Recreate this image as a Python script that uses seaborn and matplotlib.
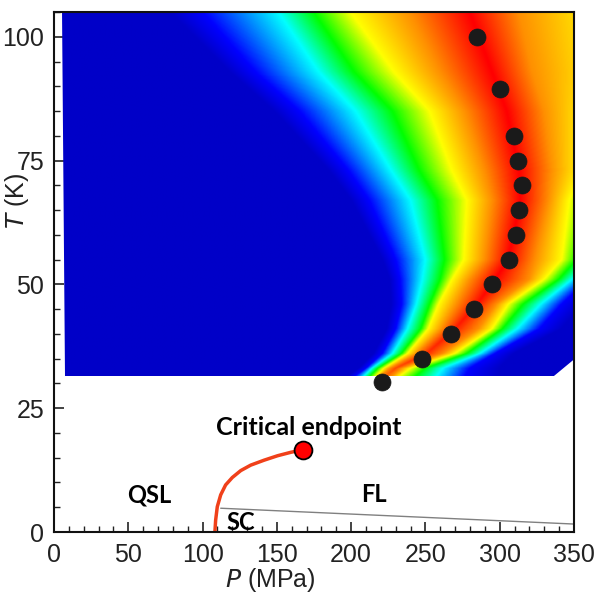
import numpy as np
import matplotlib
matplotlib.use("Agg")
import matplotlib.pyplot as plt
import seaborn as sns
from matplotlib.colors import LinearSegmentedColormap
from matplotlib.patches import Polygon
from matplotlib.ticker import MultipleLocator

# 측정점 (P, T)
dot_p = [285, 300.5, 309.5, 312, 315, 313, 311, 306, 294.5, 282.5, 267, 247.5, 221]
dot_t = [100, 89.5, 80, 75, 70, 65, 60, 55, 50, 45, 40, 35, 30.2]

# 1차 전이선과 임계 끝점
line_p = [108.3, 108.8, 109.9, 112.2, 115.5, 120.0, 125.7, 132.4, 141.4, 150.5, 159.5, 167.3]
line_t = [0, 2.4, 5.1, 7.5, 9.5, 11.0, 12.4, 13.5, 14.5, 15.4, 16.1, 16.6]
cep_p = [167.3]
cep_t = [16.6]

# SC 경계선
sc_p = [112.2, 350.5]
sc_t = [4.8, 1.6]

# 컬러맵 영역: 각 T 행에서 색 단계(0=진한 파랑 ... 6=빨강)가 나타나는 P 위치
map_t = [105, 93, 85, 73, 67, 55, 51, 46, 41, 36, 33, 31.5]
edge_l = [5.4, 5.6, 5.8, 6.0, 6.2, 6.5, 6.7, 6.9, 7.1, 7.3, 7.4, 7.4]
dark_l = [78, 118, 148, 185, 200, 221, 226, 227, 224, 215, 205, 198]
blue_l = [100, 135, 165, 198, 212, 230, 233, 234, 230, 221, 210, 203]
cyan_l = [151, 178, 203, 227, 240, 250, 248, 244, 238, 228, 214, 209]
green_l = [175, 202, 228, 246, 258, 263, 260, 253, 247, 234, 218, 213]
yellow_l = [200, 229, 253, 268, 278, 276, 268, 259, 252, 238, 222, 217]
orange_l = [240, 260, 277, 290, 295, 290, 280, 271, 261, 244, 226, 220]
ridge = [280, 295, 305, 313, 314, 306, 297, 285, 270, 251, 230, 224]
ridge_v = [6, 6, 6, 6, 6, 6, 6, 5.9, 5.8, 5.7, 5.5, 5.3]
orange_r = [313, 322, 330, 335, 333, 324, 320, 298, 286, 262, 234, 228]
yellow_r = [369, 372, 361, 356, 347, 342, 330, 306, 295, 270, 240, 233]
green_r = [400, 400, 390, 380, 365, 352, 340, 316, 302, 278, 250, 244]
cyan_r = [430, 430, 420, 410, 390, 365, 349, 328, 312, 287, 262, 258]
blue_r = [460, 460, 450, 440, 420, 395, 360, 342, 327, 297, 280, 277]
dark_r = [490, 490, 480, 470, 450, 420, 372, 356, 342, 310, 300, 300]
edge_r = [520] * 12

level_cols = [edge_l, dark_l, blue_l, cyan_l, green_l, yellow_l, orange_l, ridge,
              orange_r, yellow_r, green_r, cyan_r, blue_r, dark_r, edge_r]
level_vals = [0, 0, 1, 2, 3, 4, 5, None, 5, 4, 3, 2, 1, 0, 0]

# 색 단계 위치로부터 래스터 이미지 만들기 (그리기용)
t_asc = np.array(map_t[::-1], dtype=float)
t_img = np.linspace(31.5, 105, 450)
p_img = np.linspace(0, 360, 720)
img = np.zeros((t_img.size, p_img.size))
for i, t in enumerate(t_img):
    xs = [np.interp(t, t_asc, np.array(c[::-1], dtype=float)) for c in level_cols]
    rv = np.interp(t, t_asc, np.array(ridge_v[::-1], dtype=float))
    vs = [rv if v is None else v for v in level_vals]
    img[i] = np.interp(p_img, xs, vs)

cmap = LinearSegmentedColormap.from_list(
    "jetlike", ["#0000c8", "#0000ff", "#00ffff", "#00ff00", "#ffff00", "#ff9000", "#ff0000"])

sns.set_theme(style="ticks")
plt.rcParams['font.family'] = ['Liberation Sans', 'DejaVu Sans']

fig = plt.figure(figsize=(5.97, 5.94), dpi=100)
ax = fig.add_axes([54 / 597, 1 - 532 / 594, 520 / 597, 520 / 594])

im = ax.imshow(img, origin="lower", extent=(0, 360, 31.5, 105), aspect="auto",
               cmap=cmap, vmin=0, vmax=6, interpolation="bilinear", zorder=1)
clip = Polygon([(5.4, 105), (353, 105), (353, 35.6), (336.5, 31.5), (7.4, 31.5)],
               closed=True, transform=ax.transData)
im.set_clip_path(clip)

sns.lineplot(x=sc_p, y=sc_t, color="#808080", lw=1, ax=ax, zorder=2)
sns.lineplot(x=line_p, y=line_t, sort=False, estimator=None, color="#f0401a", lw=2.5,
             ax=ax, zorder=3)
sns.scatterplot(x=dot_p, y=dot_t, s=150, color="#1a1a1a", edgecolor="#1a1a1a",
                linewidth=0.5, ax=ax, zorder=4)
sns.scatterplot(x=cep_p, y=cep_t, s=165, color="#ff0000", edgecolor="black",
                linewidth=1.3, ax=ax, zorder=5)

lab = dict(fontsize=17, fontweight="bold", family=["Lato", "DejaVu Sans"], color="black",
           ha="center", va="center", zorder=6)
ax.text(64, 7.5, "QSL", **lab)
ax.text(125.7, 1.9, "SC", **lab)
ax.text(215.5, 7.5, "FL", **lab)
ax.text(171.6, 21.2, "Critical endpoint", fontsize=18, fontweight="bold",
        family=["Lato", "DejaVu Sans"], color="black", ha="center", va="center", zorder=6)

ax.set_xlim(0, 350)
ax.set_ylim(0, 105)
ax.xaxis.set_major_locator(MultipleLocator(50))
ax.xaxis.set_minor_locator(MultipleLocator(10))
ax.yaxis.set_major_locator(MultipleLocator(25))
ax.yaxis.set_minor_locator(MultipleLocator(5))
ax.tick_params(which="both", direction="in", top=False, right=False, color="#222222",
               labelsize=18, labelcolor="#222222")
ax.tick_params(which="major", length=7, width=1.2)
ax.tick_params(which="minor", length=4, width=1)
ax.tick_params(axis="x", pad=8)
ax.tick_params(axis="y", pad=7)
for s in ax.spines.values():
    s.set_visible(True)
    s.set_color("#111111")
    s.set_linewidth(1.5)
    s.set_zorder(7)

# 축 제목
fig.text(270 / 597, 1 - 580 / 594, "$\\mathit{P}$ (MPa)", fontsize=18, color="#222222",
         ha="center", va="center")
fig.text(17 / 597, 1 - 201 / 594, "$\\mathit{T}$ (K)", fontsize=18, color="#222222",
         ha="center", va="center", rotation=90)

fig.savefig("out.png", dpi=100)
